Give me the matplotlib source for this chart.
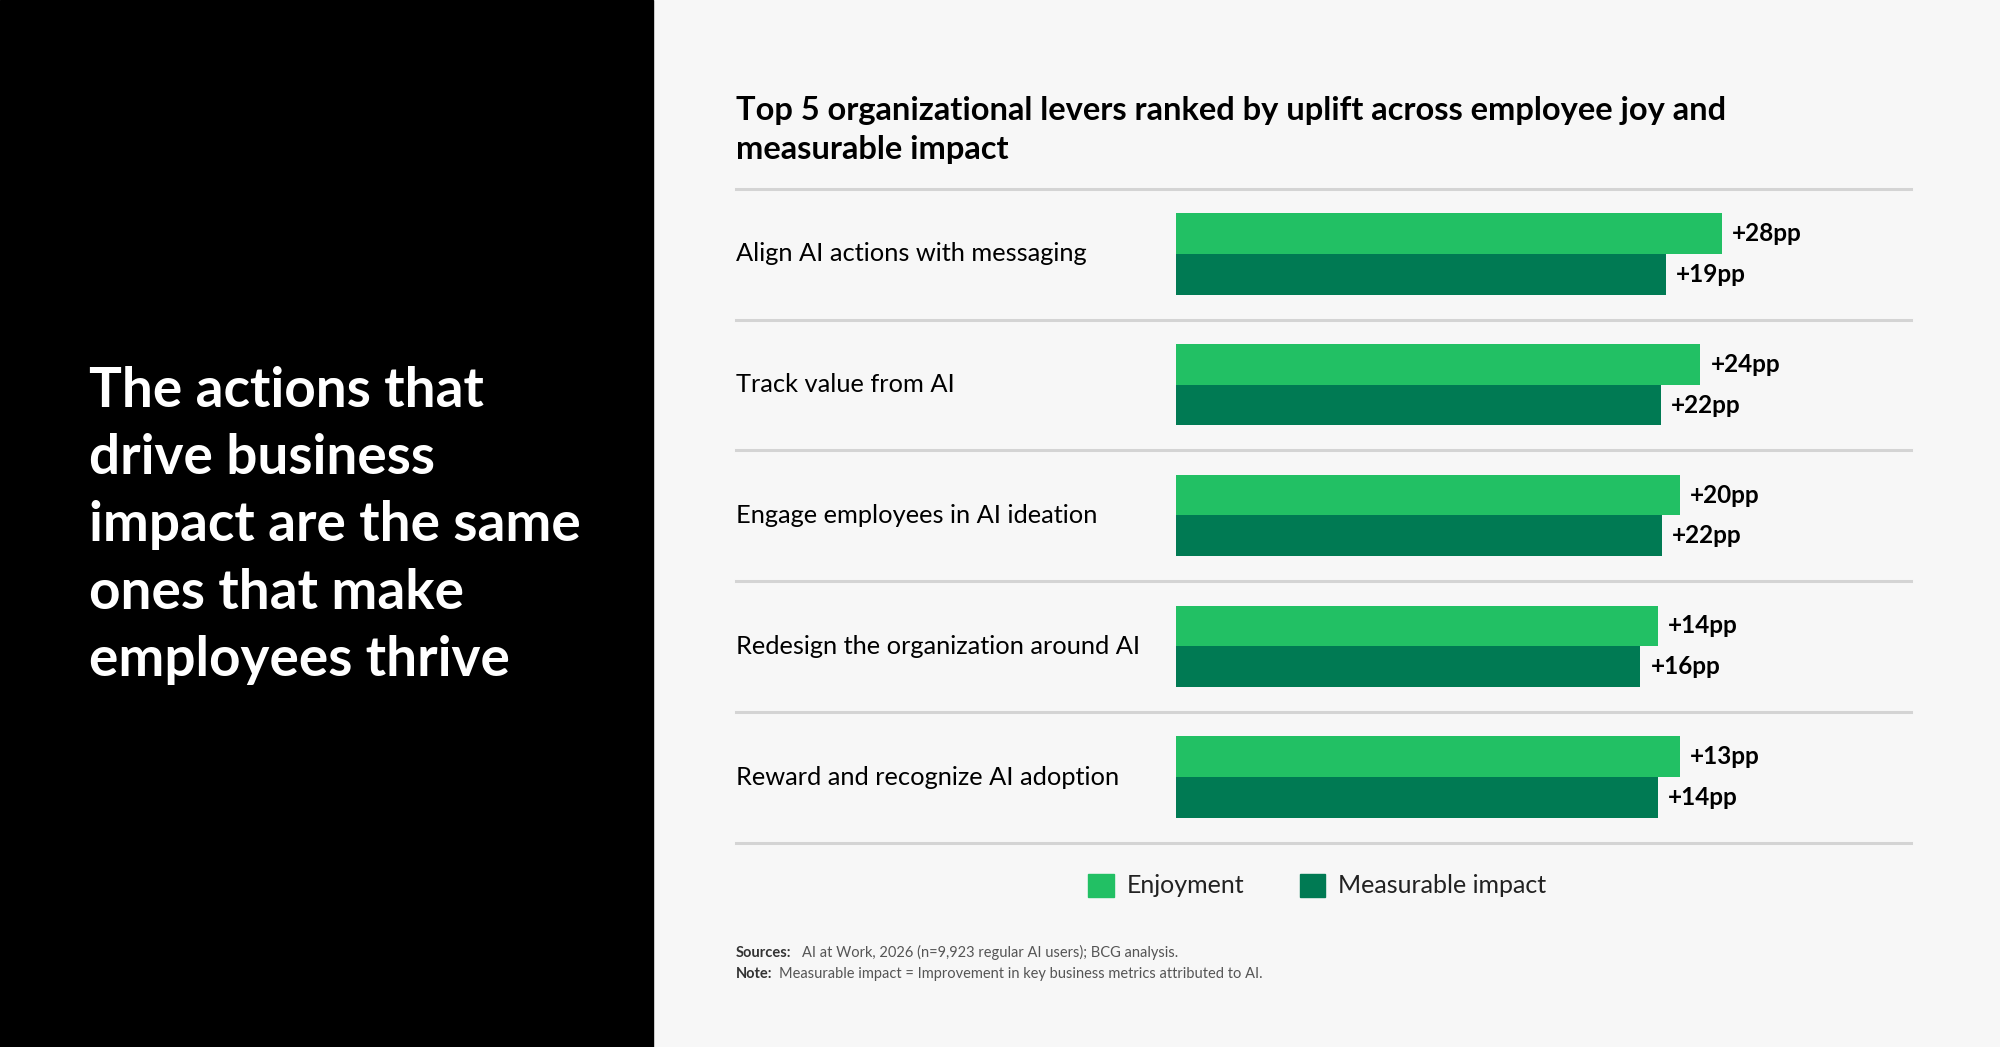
import matplotlib.pyplot as plt
from matplotlib.patches import Rectangle

plt.rcParams['font.family'] = ['Lato', 'DejaVu Sans']

levers = ["Align AI actions with messaging", "Track value from AI",
          "Engage employees in AI ideation", "Redesign the organization around AI",
          "Reward and recognize AI adoption"]
enjoy_labels = ["+28pp", "+24pp", "+20pp", "+14pp", "+13pp"]
impact_labels = ["+19pp", "+22pp", "+22pp", "+16pp", "+14pp"]
# bar lengths as drawn in the original (not proportional to the labels)
enjoy_len = [428, 411, 395, 378, 395]
impact_len = [384, 380, 381, 364, 378]

GREEN = "#22C064"
DARK = "#007A53"
W, H = 1568, 821

fig = plt.figure(figsize=(20, 10.47), dpi=100)
fig.patch.set_facecolor("#F7F7F7")
fig.add_artist(Rectangle((0, 0), 512 / W, 1, transform=fig.transFigure,
                         color="black", zorder=0))

def fx(x): return x / W
def fy(y): return 1 - y / H

fig.text(fx(70), fy(412), "The actions that\ndrive business\nimpact are the same\nones that make\nemployees thrive",
         color="white", fontsize=39.5, fontweight="bold", va="center", ha="left", linespacing=1.42)

fig.text(fx(577), fy(102), "Top 5 organizational levers ranked by uplift across employee joy and\nmeasurable impact",
         fontsize=23.5, fontweight="bold", va="center", ha="left", linespacing=1.45, color="black")

x0, x1, y0, y1 = 922, 1498, 148, 661
ax = fig.add_axes([fx(x0), fy(y1), fx(x1 - x0), (y1 - y0) / H])
ax.set_xlim(0, x1 - x0)
ax.set_ylim(y1, y0)
ax.axis("off")

row = (y1 - y0) / len(levers)
left_ext = -(x0 - 577) / (x1 - x0)
for i in range(len(levers) + 1):
    ax.axhline(y0 + i * row, xmin=left_ext, xmax=1, color="#D4D4D4", lw=2.2, clip_on=False)

for i, name in enumerate(levers):
    top = y0 + i * row + 19
    ax.barh(top, enjoy_len[i], height=32, align="edge", color=GREEN)
    ax.barh(top + 32, impact_len[i], height=32, align="edge", color=DARK)
    ax.text(enjoy_len[i] + 8, top + 16, enjoy_labels[i], fontsize=17.5, fontweight="bold", va="center")
    ax.text(impact_len[i] + 8, top + 48, impact_labels[i], fontsize=17.5, fontweight="bold", va="center")
    ax.text(577 - x0, top + 32, name, fontsize=18.3, va="center", ha="left", clip_on=False)

for x, c, lab in [(853, GREEN, "Enjoyment"), (1019, DARK, "Measurable impact")]:
    fig.add_artist(Rectangle((fx(x), fy(703)), fx(20), 18 / H, transform=fig.transFigure, color=c))
    fig.text(fx(x + 30), fy(694), lab, fontsize=18, va="center", ha="left", color="#222222")

for y, head, body, off in [(747, "Sources:", "AI at Work, 2026 (n=9,923 regular AI users); BCG analysis.", 52),
                           (764, "Note:", "Measurable impact = Improvement in key business metrics attributed to AI.", 34)]:
    fig.text(fx(577), fy(y), head, fontsize=10.5, fontweight="bold", va="center", color="#333333")
    fig.text(fx(577 + off), fy(y), body, fontsize=10.5, va="center", color="#555555")

fig.savefig("out.png", dpi=100, facecolor=fig.get_facecolor())
